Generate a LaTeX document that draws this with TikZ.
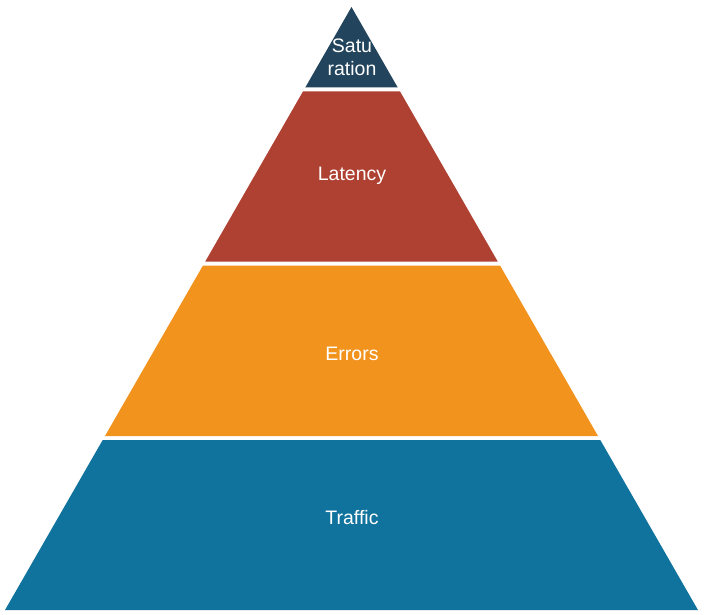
\documentclass[tikz,border=0pt]{standalone}
\usepackage{fontspec}
\setmainfont{Liberation Sans}
\definecolor{satblue}{HTML}{23445D}
\definecolor{latred}{HTML}{AE4132}
\definecolor{errorange}{HTML}{F2931E}
\definecolor{trafblue}{HTML}{10739E}
\tikzset{
  lbl/.style={text=white, font=\fontsize{19.5}{23.4}\selectfont, inner sep=0, anchor=base, align=center}
}

\begin{document}
\begin{tikzpicture}[x=1pt, y=-1pt]

\useasboundingbox (0,0) rectangle (704,615);

% ──────────────────────────
%  Helper macro: one band of the pyramid between two heights.
%  Sides run from the apex (351.5,7) down to the base corners.
% ──────────
\newcommand{\band}[3]{%
  \fill[#3] ({351.5-0.5746*(#1-7)},#1) -- ({351.5+0.5746*(#1-7)},#1)
    -- ({351.5+0.5746*(#2-7)},#2) -- ({351.5-0.5746*(#2-7)},#2) -- cycle;
}

% ═══════════════════
%  Bands, top to bottom (white gaps of 4 units between them)
% ═══════════
\foreach \ya/\yb/\col in {7/87.5/satblue, 91.5/261.5/latred,
                          265.5/436/errorange, 440/610/trafblue}
  {\band{\ya}{\yb}{\col}}

% ───────────────────────────
%  Labels
% ────────────────
\node[lbl] (sat) at (352,76) {Satu\\ration};
\node[lbl] (lat) at (352,180) {Latency};
\node[lbl] (err) at (352,360) {Errors};
\node[lbl] (traf) at (352,524.3) {Traffic};

\end{tikzpicture}
\end{document}
